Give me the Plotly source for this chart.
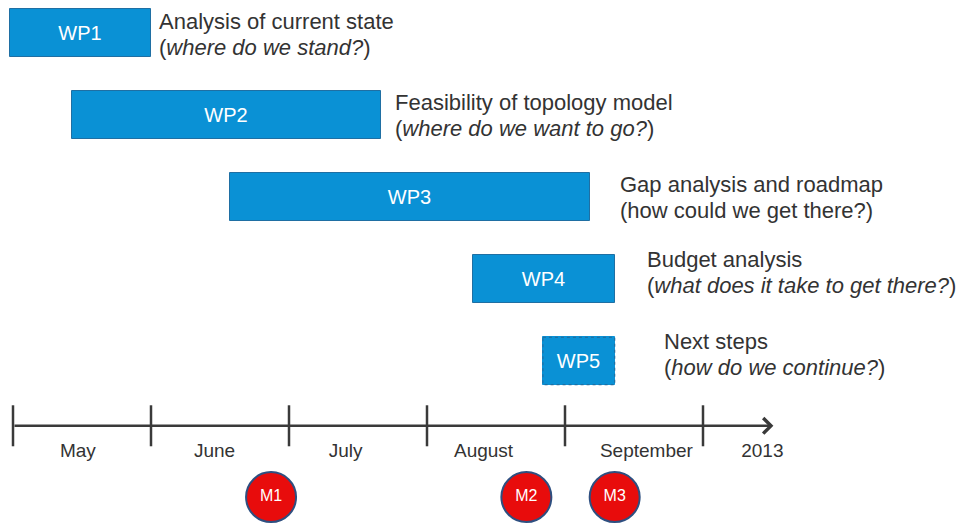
import plotly.graph_objects as go

# ---- data (x in months from 1 May 2013; rows top to bottom) ----
wp_names = ["WP1", "WP2", "WP3", "WP4", "WP5"]
wp_start = [-0.02, 0.43, 1.57, 3.33, 3.84]
wp_end = [1.00, 2.67, 4.18, 4.36, 4.36]
wp_titles = ["Analysis of current state", "Feasibility of topology model",
             "Gap analysis and roadmap", "Budget analysis", "Next steps"]
wp_questions = ["(<i>where do we stand?</i>)", "(<i>where do we want to go?</i>)",
                "(how could we get there?)", "(<i>what does it take to get there?</i>)",
                "(<i>how do we continue?</i>)"]
wp_label_x = [1.05, 2.76, 4.39, 4.585, 4.71]
wp_planned = [True, True, True, True, False]

month_ticks = [0, 1, 2, 3, 4, 5]
month_labels = ["May", "June", "July", "August", "September", "2013"]
month_label_x = [0.47, 1.46, 2.41, 3.41, 4.59, 5.43]

milestones = ["M1", "M2", "M3"]
milestone_x = [1.87, 3.72, 4.36]

rows = list(range(len(wp_names)))
AXIS_ROW = 4.79
AXIS_END = 5.51
LABEL_ROW = 5.11
MS_ROW = 5.66

BLUE = "#0A91D5"
EDGE = "#1F6FA3"
TXT = "#333333"
FONT = "Liberation Sans, Arial, sans-serif"

# page offset of the plot (browser body margin)
OFF = 8
PX_PER_MONTH = 138
PX_PER_ROW = 82
X0_PX = 13 - OFF
Y0_PX = 33 - OFF
W, H = 965, 525

fig = go.Figure()

# work package bars
fig.add_trace(go.Bar(
    y=rows,
    x=[e - s for s, e in zip(wp_start, wp_end)],
    base=wp_start,
    orientation="h",
    width=0.575,
    text=wp_names,
    textposition="inside",
    insidetextanchor="middle",
    textfont=dict(color="white", size=20, family=FONT),
    marker=dict(color=BLUE,
                line=dict(color=[EDGE if p else BLUE for p in wp_planned], width=1)),
    hoverinfo="skip",
    showlegend=False,
))

# dashed outline for tentative packages
for r, s, e, p in zip(rows, wp_start, wp_end, wp_planned):
    if not p:
        fig.add_shape(type="rect", xref="x", yref="y",
                      x0=s, x1=e, y0=r - 0.2875, y1=r + 0.2875,
                      line=dict(color=EDGE, width=1.2, dash="dot"),
                      fillcolor="rgba(0,0,0,0)")

# descriptions (two lines each)
for r, lx, t, q in zip(rows, wp_label_x, wp_titles, wp_questions):
    base_shift = 0 if r < 3 else 7
    if r == 0:
        base_shift = -1
    for line, dy in ((t, 13), (q, -13)):
        fig.add_annotation(x=lx, y=r, xref="x", yref="y", xanchor="left",
                           yanchor="middle", text=line, showarrow=False,
                           align="left", borderpad=0,
                           yshift=base_shift + dy,
                           font=dict(size=22, color=TXT, family=FONT))

# timeline axis with ticks
tx, ty = [], []
for m in month_ticks:
    tx += [m, m, None]
    ty += [AXIS_ROW - 0.25, AXIS_ROW + 0.25, None]
fig.add_trace(go.Scatter(x=tx, y=ty, mode="lines",
                         line=dict(color="#3a3a3a", width=2.5),
                         hoverinfo="skip", showlegend=False))
fig.add_annotation(x=AXIS_END, y=AXIS_ROW, ax=month_ticks[0], ay=AXIS_ROW,
                   xref="x", yref="y", axref="x", ayref="y",
                   showarrow=True, arrowhead=4, arrowsize=1.2, arrowwidth=2.5,
                   arrowcolor="#3a3a3a", text="")

# month labels
fig.add_trace(go.Scatter(x=month_label_x, y=[LABEL_ROW] * len(month_labels),
                         mode="text", text=month_labels, textposition="middle center",
                         textfont=dict(size=19, color=TXT, family=FONT),
                         hoverinfo="skip", showlegend=False))

# milestones
fig.add_trace(go.Scatter(x=milestone_x, y=[MS_ROW] * len(milestones),
                         mode="markers+text", text=milestones,
                         textposition="middle center",
                         textfont=dict(size=16, color="white", family=FONT),
                         marker=dict(size=50, color="#E80C0C",
                                     line=dict(color="#2E4F80", width=2)),
                         hoverinfo="skip", showlegend=False))

fig.update_layout(
    width=W, height=H,
    margin=dict(l=0, r=0, t=0, b=0),
    paper_bgcolor="white", plot_bgcolor="white",
    xaxis=dict(range=[-X0_PX / PX_PER_MONTH, (W - X0_PX) / PX_PER_MONTH],
               visible=False, fixedrange=True),
    yaxis=dict(range=[(H - Y0_PX) / PX_PER_ROW, -Y0_PX / PX_PER_ROW],
               visible=False, fixedrange=True),
    bargap=0,
)

fig.write_html("out.html")
